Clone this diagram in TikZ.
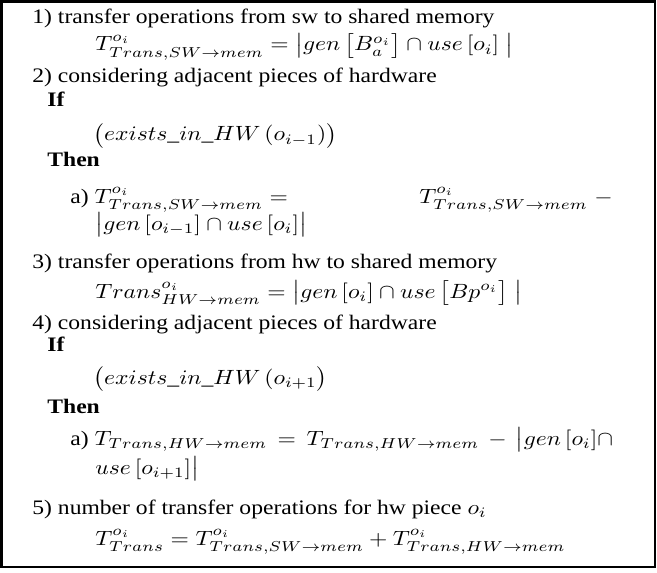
\documentclass[tikz,border=0pt]{standalone}
\usepackage{graphicx}
\usepackage{fontspec}
\setmainfont{Liberation Serif}
\newcommand\sx[1]{\scalebox{1.18}[1.03]{#1}}
\begin{document}
\begin{tikzpicture}[x=0.5pt,y=0.5pt,
  txt/.style={anchor=base west,inner sep=0pt,font=\fontsize{10}{12}\selectfont},
  txtr/.style={txt,anchor=base east},
  frame/.style={draw=black,line width=1.25pt}]
\useasboundingbox (0,0) rectangle (657,-572);
\draw[frame] (1.5,-1.5) rectangle (655,-567);
\node[txt] (l1) at (32,-24) {\sx{1) transfer operations from sw to shared memory}};
\node[txt] (e1) at (95,-51) {\sx{$T^{o_i}_{Trans,SW\rightarrow mem}=\bigl|gen\,\bigl[B^{o_i}_{a}\bigr]\cap use\,[o_i]\;\bigr|$}};
\node[txt] (l2) at (32,-83) {\sx{2) considering adjacent pieces of hardware}};
\node[txt] (if1) at (47,-107) {\sx{\textbf{If}}};
\node[txt] (x1) at (93,-141) {\sx{$\bigl(exists\_in\_HW\,(o_{i-1})\bigr)$}};
\node[txt] (th1) at (47,-167) {\sx{\textbf{Then}}};
\node[txt] (a1) at (70,-203) {\sx{a) $T^{o_i}_{Trans,SW\rightarrow mem}=$}};
\node[txtr] (a1b) at (613,-203) {\sx{$T^{o_i}_{Trans,SW\rightarrow mem}\;-$}};
\node[txt] (a1c) at (95,-230) {\sx{$\bigl|gen\,[o_{i-1}]\cap use\,[o_i]\bigr|$}};
\node[txt] (l3) at (32,-268) {\sx{3) transfer operations from hw to shared memory}};
\node[txt] (e3) at (95,-298) {\sx{$Trans^{o_i}_{HW\rightarrow mem}=\bigl|gen\,[o_i]\cap use\,\bigl[Bp^{o_i}\bigr]\;\bigr|$}};
\node[txt] (l4) at (32,-329) {\sx{4) considering adjacent pieces of hardware}};
\node[txt] (if2) at (47,-351) {\sx{\textbf{If}}};
\node[txt] (x2) at (93,-384) {\sx{$\bigl(exists\_in\_HW\,(o_{i+1}\bigr)$}};
\node[txt] (th2) at (47,-413) {\sx{\textbf{Then}}};
\node[txt] (a2) at (70,-445) {\sx{a) $T_{Trans,HW\rightarrow mem}\mathrel{\mkern3mu=\mkern3mu}T_{Trans,HW\rightarrow mem}\mathbin{\mkern3mu-\mkern3mu}\bigl|gen\,[o_i]\cap$}};
\node[txt] (a2b) at (95,-474) {\sx{$use\,[o_{i+1}]\bigr|$}};
\node[txt] (l5) at (32,-514) {\sx{5) number of transfer operations for hw piece $o_i$}};
\node[txt] (e5) at (95,-545) {\sx{$T^{o_i}_{Trans}=T^{o_i}_{Trans,SW\rightarrow mem}+T^{o_i}_{Trans,HW\rightarrow mem}$}};
\end{tikzpicture}
\end{document}
